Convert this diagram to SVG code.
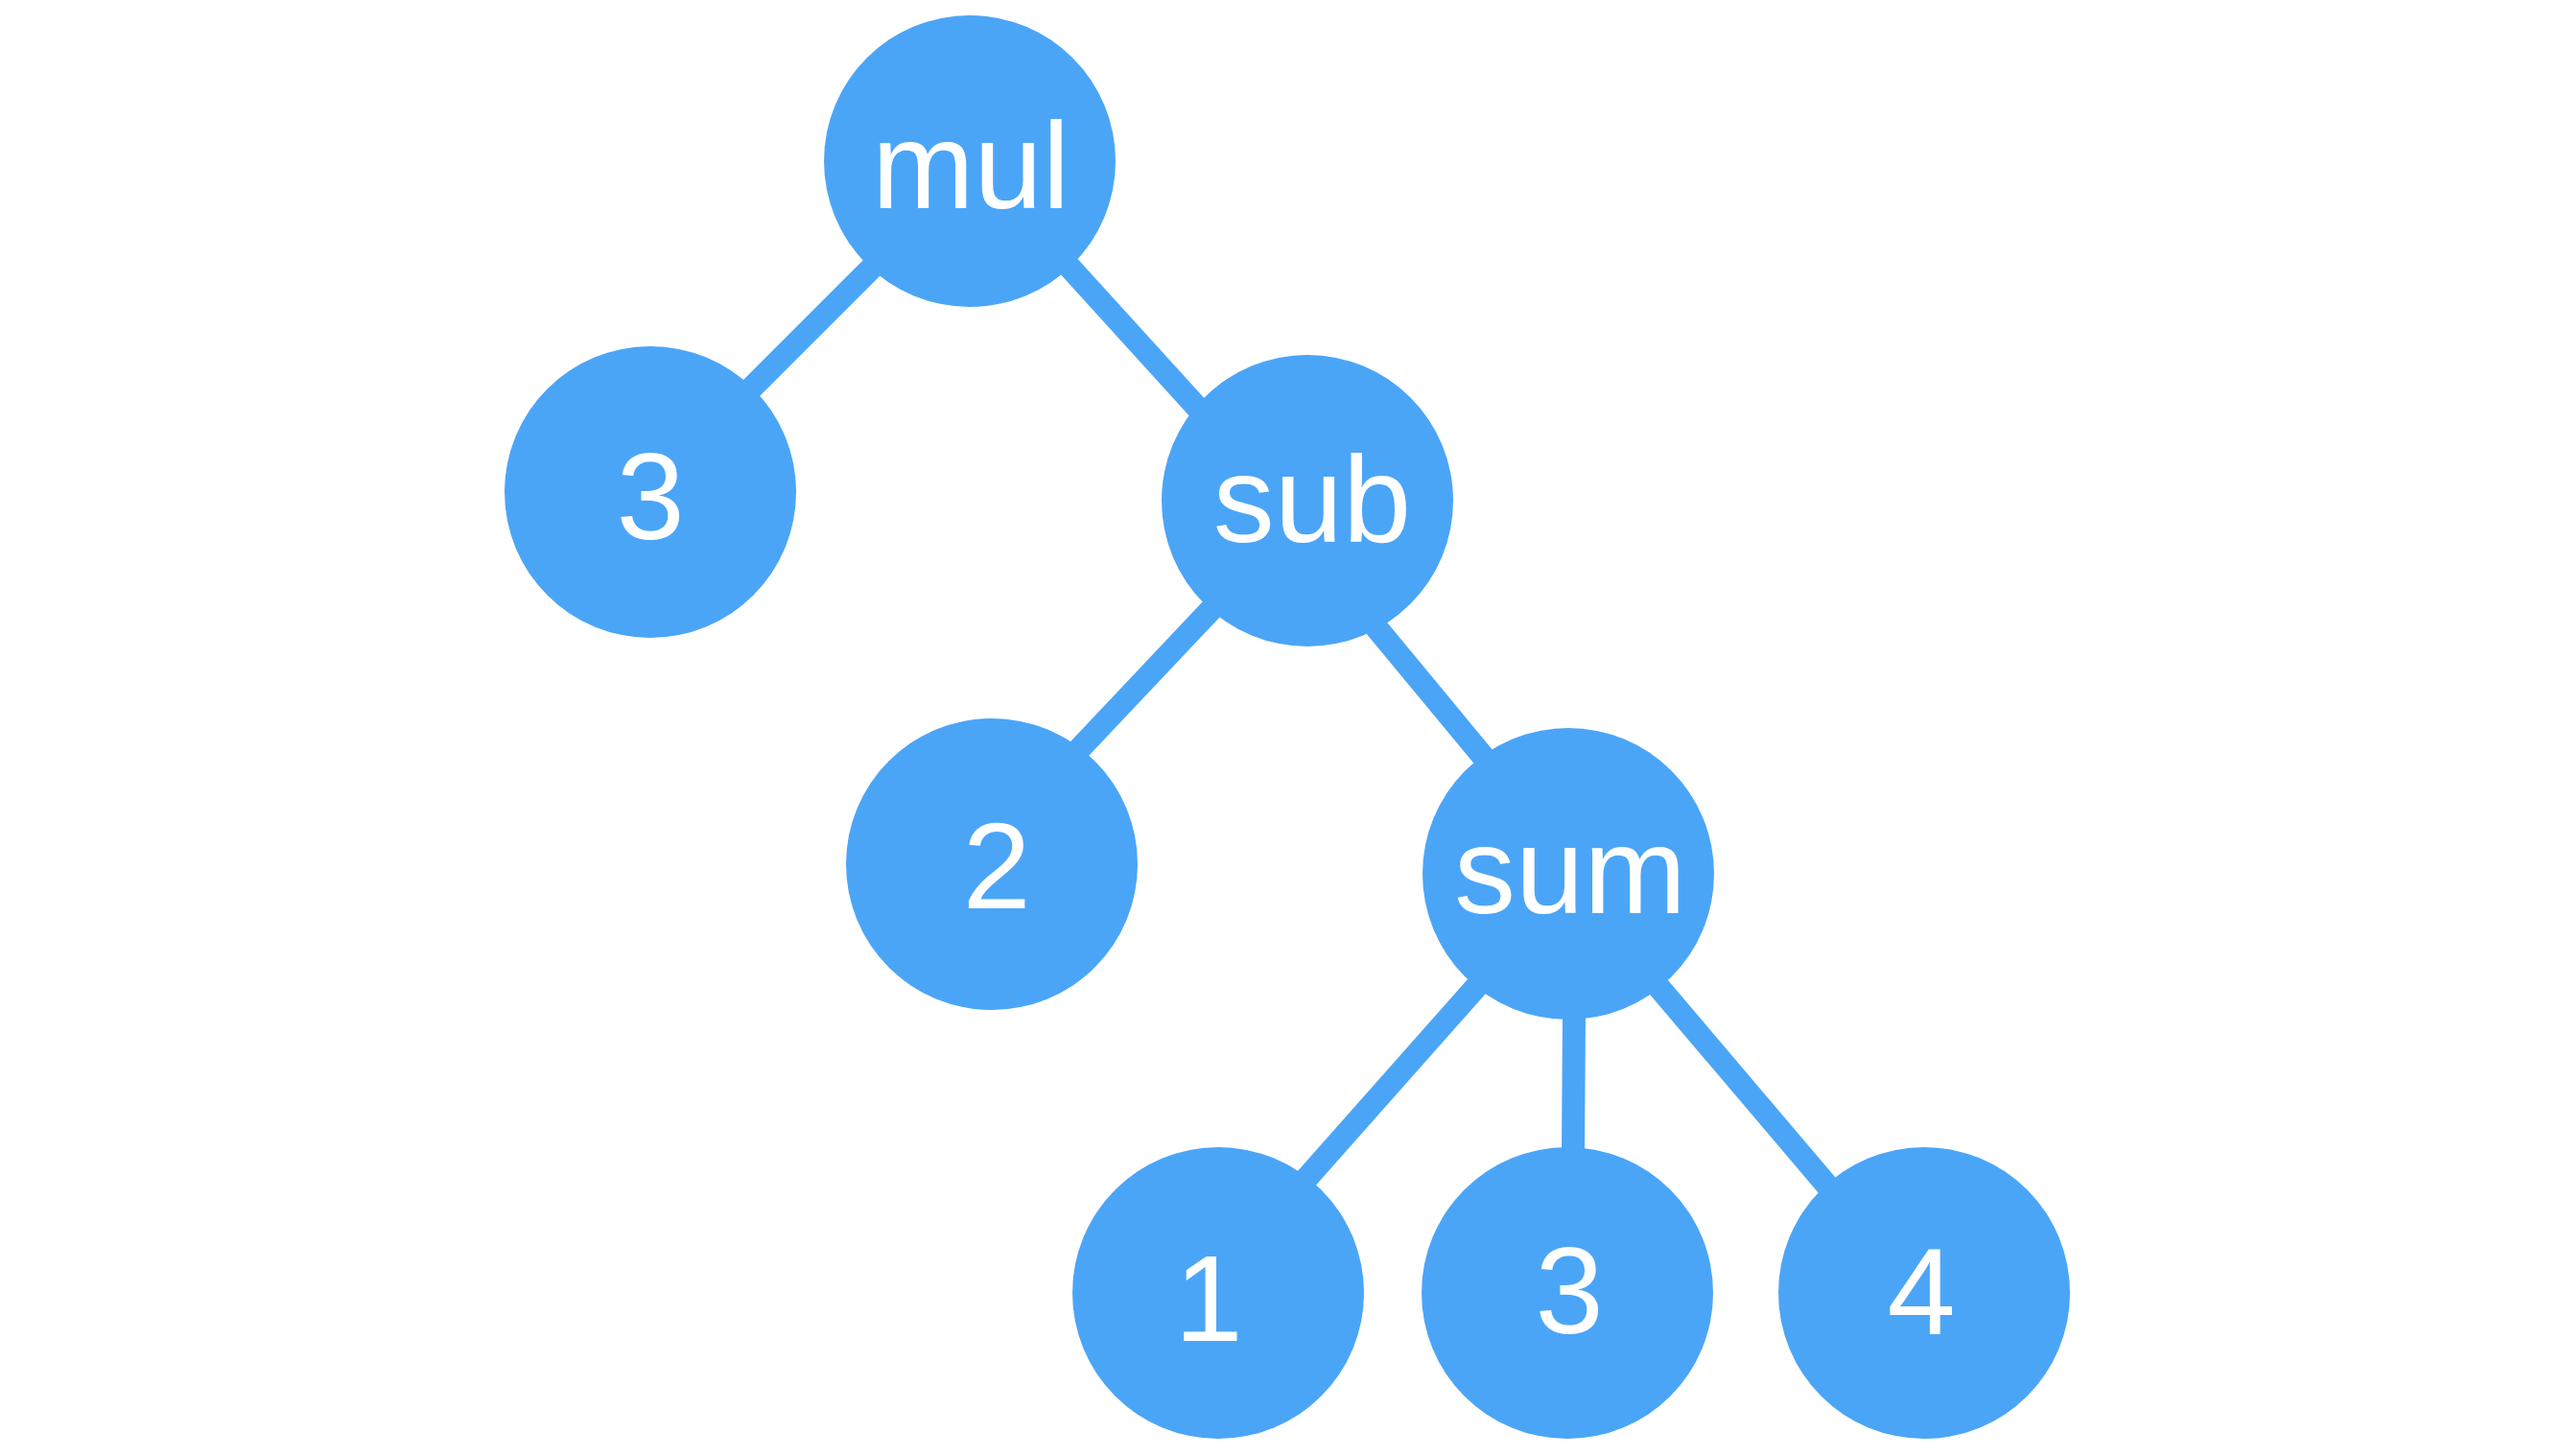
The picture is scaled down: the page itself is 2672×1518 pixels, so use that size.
<svg xmlns="http://www.w3.org/2000/svg" width="2672" height="1518" viewBox="0 0 2672 1518">
<style>
.edge{stroke:#4BA5F7;stroke-width:24;fill:none}
.node circle{fill:#4BA5F7}
.node text{fill:#ffffff;font-family:"Liberation Sans",Arial,Helvetica,sans-serif;font-size:128px;text-anchor:middle}
</style>
<rect width="2672" height="1518" fill="#ffffff"/>
<g id="connectors">
<line class="edge" x1="1008" y1="180" x2="690" y2="498"/>
<line class="edge" x1="1011" y1="164" x2="1290" y2="471"/>
<line class="edge" x1="1363" y1="529" x2="1060" y2="850"/>
<line class="edge" x1="1380" y1="588" x2="1620" y2="878"/>
<line class="edge" x1="1625" y1="932" x2="1290" y2="1310"/>
<line class="edge" x1="1642" y1="920" x2="1639" y2="1340"/>
<line class="edge" x1="1640" y1="924" x2="2000" y2="1348"/>
</g>
<g id="node-mul" class="node"><circle cx="1011" cy="168" r="152"/><text x="1012" y="217">mul</text></g>
<g id="node-3a" class="node"><circle cx="678" cy="513" r="152"/><text x="678" y="562">3</text></g>
<g id="node-sub" class="node"><circle cx="1363" cy="522" r="152"/><text x="1368" y="565">sub</text></g>
<g id="node-2" class="node"><circle cx="1034" cy="901" r="152"/><text x="1039" y="947">2</text></g>
<g id="node-sum" class="node"><circle cx="1635" cy="911" r="152"/><text x="1637" y="952">sum</text></g>
<g id="node-1" class="node"><circle cx="1270" cy="1348" r="152"/><text x="1260" y="1398">1</text></g>
<g id="node-3b" class="node"><circle cx="1634" cy="1348" r="152"/><text x="1636" y="1390">3</text></g>
<g id="node-4" class="node"><circle cx="2006" cy="1348" r="152"/><text x="2003" y="1391">4</text></g>
</svg>
